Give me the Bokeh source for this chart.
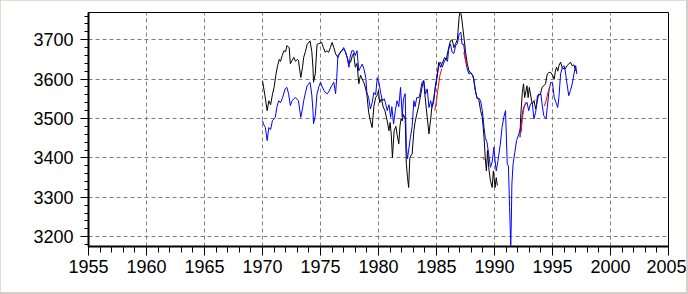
import numpy as np
from bokeh.plotting import figure
from bokeh.models import Range1d, SingleIntervalTicker, ColumnDataSource
from bokeh.layouts import column
from bokeh.embed import file_html
from bokeh.resources import INLINE

nan = float("nan")

black_year = [
    1970.0, 1970.2, 1970.4, 1970.55, 1970.7, 1970.85, 1971.0, 1971.15, 1971.3, 1971.45,
    1971.55, 1971.7, 1971.85, 1972.0, 1972.1, 1972.3, 1972.4, 1972.55, 1972.7, 1972.85,
    1973.0, 1973.1, 1973.3, 1973.45, 1973.55, 1973.7, 1973.85, 1974.1, 1974.25, 1974.35,
    1974.4, 1974.55, 1974.7, 1974.85, 1975.1, 1975.25, 1975.4, 1975.55, 1975.7, 1975.85,
    1976.0, 1976.15, 1976.3, 1976.5, 1976.6, 1976.8, 1977.0, 1977.15, 1977.3, 1977.45,
    1977.6, 1977.75, 1977.85, 1978.0, 1978.15, 1978.3, 1978.45, 1978.6, 1978.75, 1978.9,
    1979.0, 1979.15, 1979.3, 1979.45, 1979.6, 1979.75, 1979.9, 1980.0, 1980.1, 1980.25,
    1980.4, 1980.55, 1980.75, 1980.9, 1981.0, 1981.1, 1981.2, 1981.35, 1981.5, 1981.6,
    1981.75, 1981.85, 1981.95, 1982.05, 1982.15, 1982.3, 1982.4, 1982.5, 1982.6, 1982.7,
    1982.9, 1983.05, 1983.15, 1983.3, 1983.45, 1983.6, 1983.75, 1983.9, 1984.0, 1984.2,
    1984.35, 1984.5, 1984.6, 1984.75, 1984.9, 1985.05, 1985.2, 1985.35, 1985.5, 1985.7,
    1985.85, 1986.05, 1986.2, 1986.35, 1986.5, 1986.65, 1986.8, 1986.95, 1987.05, 1987.15,
    1987.25, 1987.4, 1987.5, 1987.65, 1987.8, 1987.95, 1988.1, 1988.2, 1988.35, 1988.5,
    1988.65, 1988.8, 1988.95, 1989.1, 1989.2, 1989.3, 1989.4, 1989.5, 1989.65, 1989.8,
    1989.9, 1990.05, 1990.15, 1990.25, 1991.0, 1992.2, 1992.25, 1992.4, 1992.5, 1992.6,
    1992.8, 1992.9, 1993.0, 1993.25, 1993.4, 1993.55, 1993.7, 1993.8, 1993.95, 1994.1,
    1994.25, 1994.4, 1994.55, 1994.7, 1994.85, 1995.0, 1995.15, 1995.25, 1995.35, 1995.45,
    1995.55, 1995.7, 1995.85, 1996.0, 1996.1, 1996.25, 1996.4, 1996.55, 1996.7, 1996.85,
    1997.0,
]
black_val = [
    3596, 3560, 3520, 3545, 3535, 3560, 3579, 3610, 3634, 3650,
    3645, 3660, 3672, 3670, 3685, 3680, 3639, 3647, 3655, 3645,
    3650, 3647, 3604, 3630, 3655, 3670, 3688, 3697, 3670, 3630,
    3592, 3613, 3688, 3690, 3693, 3680, 3668, 3672, 3668, 3680,
    3693, 3680, 3664, 3655, 3662, 3672, 3676, 3670, 3655, 3640,
    3643, 3660, 3665, 3630, 3640, 3588, 3610, 3600, 3590, 3575,
    3560, 3516, 3494, 3477, 3530, 3553, 3560, 3571, 3540, 3550,
    3530, 3520, 3494, 3469, 3490, 3460, 3401, 3469, 3480, 3460,
    3436, 3480, 3500, 3494, 3510, 3500, 3385, 3350, 3325, 3401,
    3410, 3469, 3490, 3511, 3530, 3553, 3580, 3596, 3560, 3503,
    3461, 3500, 3528, 3540, 3580, 3610, 3643, 3630, 3640, 3655,
    3650, 3680, 3697, 3700, 3680, 3690, 3700, 3757, 3775, 3760,
    3735, 3697, 3670, 3640, 3621, 3615, 3610, 3600, 3570, 3552,
    3548, 3520, 3503, 3452, 3401, 3367, 3420, 3376, 3342, 3325,
    3367, 3325, 3350, 3330, nan, 3452, 3503, 3566, 3588, 3553,
    3583, 3553, 3579, 3537, 3545, 3524, 3545, 3562, 3560, 3579,
    3583, 3588, 3613, 3617, 3617, 3610, 3600, 3621, 3630, 3620,
    3634, 3643, 3628, 3626, 3626, 3634, 3638, 3643, 3634, 3636,
    3621,
]

blue_year = [
    1970.0, 1970.1, 1970.25, 1970.4, 1970.55, 1970.7, 1970.85, 1971.1, 1971.25, 1971.4,
    1971.55, 1971.7, 1971.95, 1972.1, 1972.25, 1972.4, 1972.55, 1972.7, 1972.85, 1973.1,
    1973.3, 1973.45, 1973.55, 1973.7, 1973.85, 1974.1, 1974.25, 1974.35, 1974.4, 1974.55,
    1974.7, 1974.85, 1975.0, 1975.15, 1975.3, 1975.45, 1975.6, 1975.75, 1975.9, 1976.15,
    1976.3, 1976.4, 1976.5, 1976.7, 1976.85, 1977.0, 1977.15, 1977.3, 1977.45, 1977.55,
    1977.7, 1977.85, 1978.0, 1978.15, 1978.3, 1978.45, 1978.6, 1978.75, 1978.9, 1979.0,
    1979.15, 1979.3, 1979.45, 1979.6, 1979.75, 1979.9, 1980.05, 1980.2, 1980.35, 1980.5,
    1980.6, 1980.75, 1980.9, 1981.05, 1981.15, 1981.3, 1981.45, 1981.6, 1981.75, 1981.9,
    1982.05, 1982.15, 1982.3, 1982.4, 1982.5, 1982.6, 1982.75, 1982.9, 1983.05, 1983.15,
    1983.3, 1983.5, 1983.6, 1983.75, 1983.9, 1984.05, 1984.2, 1984.35, 1984.5, 1984.6,
    1984.75, 1984.9, 1985.05, 1985.2, 1985.35, 1985.5, 1985.65, 1985.8, 1985.95, 1986.05,
    1986.2, 1986.35, 1986.5, 1986.65, 1986.8, 1986.95, 1987.1, 1987.2, 1987.35, 1987.5,
    1987.65, 1987.8, 1987.95, 1988.1, 1988.2, 1988.35, 1988.5, 1988.65, 1988.8, 1988.95,
    1989.1, 1989.2, 1989.35, 1989.5, 1989.65, 1989.8, 1989.95, 1990.05, 1990.15, 1990.3,
    1990.5, 1990.65, 1990.8, 1990.95, 1991.1, 1991.2, 1991.3, 1991.4, 1991.45, 1991.5,
    1991.6, 1991.75, 1991.9, 1992.1, 1992.25, 1992.4, 1992.5, 1992.65, 1992.8, 1992.95,
    1993.1, 1993.25, 1993.4, 1993.55, 1993.7, 1993.85, 1994.0, 1994.1, 1994.25, 1994.45,
    1994.55, 1994.7, 1994.85, 1995.0, 1995.15, 1995.3, 1995.45, 1995.55, 1995.7, 1995.85,
    1996.0, 1996.1, 1996.25, 1996.4, 1996.55, 1996.7, 1996.85, 1997.0, 1997.1,
]
blue_val = [
    3494, 3485, 3477, 3444, 3477, 3472, 3494, 3503, 3530, 3545,
    3540, 3550, 3575, 3579, 3563, 3533, 3545, 3550, 3553, 3545,
    3503, 3525, 3545, 3565, 3583, 3592, 3560, 3520, 3487, 3507,
    3563, 3580, 3592, 3580, 3571, 3565, 3563, 3570, 3580, 3592,
    3563, 3604, 3659, 3668, 3672, 3680, 3668, 3655, 3630, 3655,
    3672, 3672, 3660, 3672, 3621, 3630, 3638, 3625, 3604, 3566,
    3553, 3524, 3540, 3566, 3560, 3604, 3590, 3563, 3545, 3550,
    3540, 3520, 3535, 3503, 3530, 3486, 3520, 3545, 3530, 3579,
    3503, 3550, 3563, 3427, 3398, 3420, 3452, 3480, 3545, 3530,
    3553, 3553, 3566, 3592, 3596, 3562, 3575, 3528, 3545, 3528,
    3550, 3579, 3604, 3634, 3643, 3630, 3643, 3651, 3645, 3676,
    3689, 3668, 3665, 3685, 3690, 3714, 3719, 3689, 3688, 3647,
    3626, 3613, 3617, 3610, 3604, 3571, 3550, 3552, 3545, 3520,
    3477, 3452, 3440, 3410, 3376, 3390, 3427, 3393, 3367, 3393,
    3435, 3477, 3503, 3520, 3384, 3380, 3274, 3178, 3240, 3334,
    3384, 3414, 3444, 3461, 3477, 3511, 3528, 3535, 3541, 3520,
    3537, 3540, 3499, 3516, 3558, 3560, 3562, 3537, 3507, 3499,
    3528, 3571, 3592, 3590, 3553, 3541, 3528, 3553, 3613, 3630,
    3634, 3621, 3588, 3558, 3571, 3588, 3613, 3634, 3613,
]

red_year = [
    1984.85, 1985.0, 1985.15, 1985.3, 1985.45, 1986.0,
    1987.35, 1987.5, 1987.65, 1988.0,
    1989.05, 1989.1, 1990.0,
    1992.3, 1992.4, 1992.5, 1992.6, 1992.7, 1993.0,
    1993.35, 1993.5, 1994.0,
    1994.3, 1994.45, 1994.6, 1994.75,
]
red_val = [
    3520, 3545, 3580, 3610, 3626, nan,
    3668, 3650, 3634, nan,
    3402, 3395, nan,
    3465, 3500, 3520, 3535, 3541, nan,
    3540, 3548, nan,
    3532, 3545, 3565, 3579,
]

FONT = "Liberation Sans"

p = figure(width=686, height=292,
           x_range=Range1d(1955, 2005), y_range=Range1d(3175.2, 3769),
           output_backend="svg", toolbar_location=None,
           min_border_left=88, min_border_right=18,
           min_border_top=12, min_border_bottom=46,
           background_fill_color="white", border_fill_color="white")

p.line(x="x", y="y", source=ColumnDataSource(dict(x=black_year, y=black_val)),
       line_color="black", line_width=1)
p.line(x="x", y="y", source=ColumnDataSource(dict(x=blue_year, y=blue_val)),
       line_color="#0000FF", line_width=1)
p.line(x="x", y="y", source=ColumnDataSource(dict(x=red_year, y=red_val)),
       line_color="#FF0000", line_width=1)

p.xaxis.ticker = SingleIntervalTicker(interval=5, num_minor_ticks=5)
p.yaxis.ticker = SingleIntervalTicker(interval=100, num_minor_ticks=5)

for ax in (p.xaxis[0], p.yaxis[0]):
    ax.axis_line_color = "black"
    ax.axis_line_width = 2
    ax.major_tick_line_color = "black"
    ax.minor_tick_line_color = "black"
    ax.major_tick_in = 0
    ax.minor_tick_in = 0
    ax.major_label_text_font = FONT
    ax.major_label_text_font_size = "18px"
    ax.major_label_text_color = "black"

p.xaxis.major_tick_out = 9
p.xaxis.minor_tick_out = 6
p.xaxis.major_label_standoff = 4
p.yaxis.major_tick_out = 8
p.yaxis.minor_tick_out = 4
p.yaxis.major_label_standoff = 7

for g in (p.xgrid[0], p.ygrid[0]):
    g.grid_line_color = "#808080"
    g.grid_line_dash = "4 3"
    g.grid_line_width = 1

p.outline_line_color = "black"
p.outline_line_width = 1

layout = column(p, width=688, height=294, styles={"background-color": "#d4d0c8"})

open("out.html", "w").write(file_html(layout, INLINE))
